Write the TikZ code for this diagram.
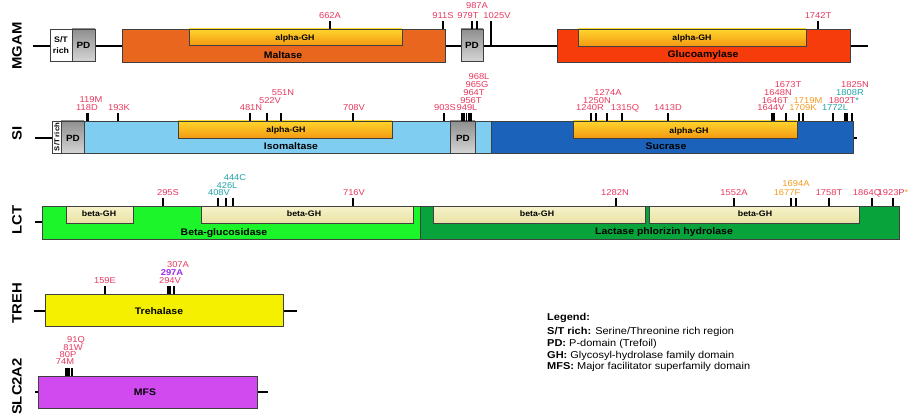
\documentclass[tikz,border=0pt]{standalone}
\usepackage{fontspec}
\setmainfont{Liberation Sans}[FakeStretch=1.1]
\definecolor{malt}{HTML}{E8661E}
\definecolor{gluco}{HTML}{F63C0B}
\definecolor{isom}{HTML}{80CDF2}
\definecolor{sucr}{HTML}{1B63BA}
\definecolor{bglu}{HTML}{1CF52A}
\definecolor{lph}{HTML}{08A33B}
\definecolor{treh}{HTML}{F5F000}
\definecolor{mfs}{HTML}{D04AF0}
\definecolor{agtop}{HTML}{FFD52C}
\definecolor{agbot}{HTML}{F39A12}
\definecolor{bgtop}{HTML}{F7F3CB}
\definecolor{bgbot}{HTML}{E8E1A4}
\definecolor{pdtop}{HTML}{8F8F8F}
\definecolor{pdbot}{HTML}{D4D4D4}
\definecolor{mred}{HTML}{E8385E}
\definecolor{mteal}{HTML}{22A3A7}
\definecolor{morange}{HTML}{F39C1F}
\definecolor{mpurple}{HTML}{9B2BEF}
\definecolor{edge}{HTML}{404040}
\newcommand\mutn[7]{%
  \node[mut, text=#6] (#1) at (#4,#5) {#7};
  \coordinate (#1b) at (#2,#3);
  \coordinate (#1t) at (#2,#3-8);
  \draw[tick] (#1b) -- (#1t);}
\begin{document}
\begin{tikzpicture}[x=1pt,y=-1pt,
  box/.style={draw=edge, line width=0.7pt, inner sep=0pt, outer sep=0pt, anchor=north west},
  agh/.style={box, top color=agtop, bottom color=agbot},
  bgh/.style={box, top color=bgtop, bottom color=bgbot},
  pdbox/.style={box, top color=pdtop, bottom color=pdbot},
  backbone/.style={line width=2.6pt, black},
  tick/.style={line width=1.2pt, black},
  mut/.style={inner sep=0pt, font=\fontsize{8.5}{9}\selectfont},
  dlab/.style={inner sep=0pt, text depth=0pt, font=\bfseries\fontsize{9.5}{11}\selectfont},
  ghlab/.style={inner sep=0pt, text depth=0pt, font=\bfseries\fontsize{8}{9}\selectfont},
  pdlab/.style={inner sep=0pt, font=\bfseries\fontsize{9}{10}\selectfont},
  rowlab/.style={inner sep=0pt, rotate=90, font=\bfseries\fontsize{13.5}{16}\selectfont},
  leg/.style={inner sep=0pt, anchor=west, text depth=0pt, font=\fontsize{10}{12}\selectfont}]
\fill[white] (0,0) rectangle (912,417);
\useasboundingbox (0,0) rectangle (912,417);

% ---------------- row labels
\node[rowlab] (rMGAM) at (17,46) {MGAM};
\node[rowlab] (rSI) at (17,133) {SI};
\node[rowlab] (rLCT) at (17,220) {LCT};
\node[rowlab] (rTREH) at (17,303) {TREH};
\node[rowlab] (rSLC) at (17,386.5) {SLC2A2};

% ---------------- MGAM
\draw[backbone] (33,46) -- (868,46);
\node[box, fill=white, minimum width=22pt, minimum height=32pt] (mst) at (50,29) {};
\node[inner sep=0pt, align=center, font=\bfseries\fontsize{8}{11}\selectfont] (mstL) at (61,45) {S/T\\rich};
\node[pdbox, minimum width=23pt, minimum height=32pt] (mpd1) at (72,29) {};
\node[pdlab] (mpd1L) at (83.5,45) {PD};
\node[box, fill=malt, minimum width=323pt, minimum height=33pt] (malt) at (122,29) {};
\node[agh, minimum width=213pt, minimum height=16pt] (mag1) at (189,29) {};
\node[ghlab] (mag1L) at (295,37.5) {alpha-GH};
\node[dlab] (maltL) at (283,55) {Maltase};
\node[pdbox, minimum width=22pt, minimum height=32pt] (mpd2) at (461,29) {};
\node[pdlab] (mpd2L) at (472,45) {PD};
\node[box, fill=gluco, minimum width=293pt, minimum height=33pt] (gluc) at (557,29) {};
\node[agh, minimum width=228pt, minimum height=17pt] (mag2) at (578,29) {};
\node[ghlab] (mag2L) at (692,38) {alpha-GH};
\node[dlab] (glucL) at (703,54) {Glucoamylase};

\mutn{m662}{330}{29}{330}{16}{mred}{662A}
\mutn{m911}{443}{29}{443}{16}{mred}{911S}
\mutn{m979}{472}{29}{468}{16}{mred}{979T}
\mutn{m987}{477}{29}{477}{6}{mred}{987A}
\node[mut, text=mred] (m1025) at (497,16) {1025V};
\coordinate (m1025b) at (491,46);
\coordinate (m1025t) at (491,21);
\draw[tick] (m1025b) -- (m1025t);
\mutn{m1742}{818}{29}{818}{16}{mred}{1742T}

% ---------------- SI
\draw[backbone] (35,138) -- (52,138);
\draw[backbone] (852,138) -- (857,138);
\node[box, fill=white, minimum width=9pt, minimum height=32pt] (sst) at (52,121) {};
\node[inner sep=0pt, rotate=90, font=\bfseries\fontsize{7}{8}\selectfont] (sstL) at (56.8,137) {S/T rich};
\node[pdbox, minimum width=23pt, minimum height=32pt] (spd1) at (61,121) {};
\node[pdlab] (spd1L) at (73,138) {PD};
\node[box, fill=isom, minimum width=407pt, minimum height=32pt] (isom) at (84,121) {};
\node[agh, minimum width=214pt, minimum height=17pt] (sag1) at (178,121) {};
\node[ghlab] (sag1L) at (286,130) {alpha-GH};
\node[dlab] (isomL) at (291,146) {Isomaltase};
\node[pdbox, minimum width=25pt, minimum height=32pt] (spd2) at (450,121) {};
\node[pdlab] (spd2L) at (463,138) {PD};
\node[box, fill=sucr, minimum width=362pt, minimum height=32pt] (sucr) at (491,121) {};
\node[agh, minimum width=224pt, minimum height=17pt] (sag2) at (573,121) {};
\node[ghlab] (sag2L) at (689,130.5) {alpha-GH};
\node[dlab] (sucrL) at (666,146) {Sucrase};

\mutn{s118}{87}{121}{87}{108}{mred}{118D}
\mutn{s119}{88}{121}{91}{100}{mred}{119M}
\mutn{s193}{118}{121}{119}{108}{mred}{193K}
\mutn{s481}{250}{121}{251}{108}{mred}{481N}
\mutn{s522}{267}{121}{270}{101}{mred}{522V}
\mutn{s551}{281}{121}{283}{93}{mred}{551N}
\mutn{s708}{353}{121}{354}{108}{mred}{708V}
\mutn{s903}{444}{121}{445}{108}{mred}{903S}
\mutn{s949}{462}{121}{467}{108}{mred}{949L}
\mutn{s956}{464}{121}{471}{101}{mred}{956T}
\mutn{s964}{466.5}{121}{474}{93}{mred}{964T}
\mutn{s965}{469}{121}{477}{85}{mred}{965G}
\mutn{s968}{471}{121}{479}{77}{mred}{968L}
\mutn{s1240}{591}{121}{590}{108}{mred}{1240R}
\mutn{s1250}{596}{121}{597}{101}{mred}{1250N}
\mutn{s1274}{607}{121}{608}{93}{mred}{1274A}
\mutn{s1315}{622}{121}{625}{108}{mred}{1315Q}
\mutn{s1413}{668}{121}{668}{108}{mred}{1413D}
\mutn{s1644}{772}{121}{771}{108}{mred}{1644V}
\mutn{s1646}{773}{121}{775}{101}{mred}{1646T}
\mutn{s1648}{774}{121}{778}{93}{mred}{1648N}
\mutn{s1673}{786}{121}{788}{85}{mred}{1673T}
\mutn{s1709}{799}{121}{803}{108}{morange}{1709K}
\mutn{s1719}{803}{121}{808}{101}{morange}{1719M}
\mutn{s1772}{833}{121}{835}{108}{mteal}{1772L}
\mutn{s1802}{845}{121}{844}{101}{mred}{1802T\textcolor{mteal}{*}}
\mutn{s1808}{847}{121}{850}{93}{mteal}{1808R}
\mutn{s1825}{852}{121}{855}{85}{mred}{1825N}

% ---------------- LCT
\draw[backbone] (35,222) -- (42,222);
\node[box, fill=bglu, minimum width=378pt, minimum height=33pt] (bglu) at (42,206) {};
\node[bgh, minimum width=67pt, minimum height=17pt] (lbg1) at (66,206) {};
\node[bgh, minimum width=212pt, minimum height=17pt] (lbg2) at (201,206) {};
\node[box, fill=lph, minimum width=479pt, minimum height=33pt] (lph) at (420,206) {};
\node[bgh, minimum width=212pt, minimum height=17pt] (lbg3) at (433,206) {};
\node[bgh, minimum width=210pt, minimum height=17pt] (lbg4) at (649,206) {};
\node[ghlab] (lbg1L) at (99,214) {beta-GH};
\node[ghlab] (lbg2L) at (304,214) {beta-GH};
\node[ghlab] (lbg3L) at (537,214) {beta-GH};
\node[ghlab] (lbg4L) at (755,214) {beta-GH};
\node[dlab] (bgluL) at (224,232) {Beta-glucosidase};
\node[dlab] (lphL) at (664,231.5) {Lactase phlorizin hydrolase};

\mutn{l295}{163}{206}{168}{193}{mred}{295S}
\mutn{l408}{218}{206}{219}{193}{mteal}{408V}
\mutn{l426}{226}{206}{227}{186}{mteal}{426L}
\mutn{l444}{233}{206}{235}{178}{mteal}{444C}
\mutn{l716}{353}{206}{354}{193}{mred}{716V}
\mutn{l1282}{616}{206}{615}{193}{mred}{1282N}
\mutn{l1552}{734}{206}{734}{193}{mred}{1552A}
\mutn{l1677}{791}{206}{787}{193}{morange}{1677F}
\mutn{l1694}{796}{206}{796}{184}{morange}{1694A}
\mutn{l1758}{829}{206}{829}{193}{mred}{1758T}
\mutn{l1864}{872}{206}{867}{193}{mred}{1864Q}
\mutn{l1923}{893}{206}{893}{193}{mred}{1923P\textcolor{morange}{*}}

% ---------------- TREH
\draw[backbone] (34,311) -- (297,311);
\node[box, fill=treh, minimum width=238pt, minimum height=32pt] (treh) at (45,294) {};
\node[dlab] (trehL) at (159,311) {Trehalase};
\mutn{t159}{105}{294}{105}{281}{mred}{159E}
\mutn{t294}{168}{294}{170}{281}{mred}{294V}
\mutn{t297}{170}{294}{172}{273}{mpurple}{\bfseries 297A}
\mutn{t307}{174}{294}{178}{265}{mred}{307A}

% ---------------- SLC2A2
\draw[backbone] (35,392) -- (268,392);
\node[box, fill=mfs, minimum width=219pt, minimum height=32pt] (mfs) at (38,376) {};
\node[dlab] (mfsL) at (145,392) {MFS};
\mutn{g74}{66}{376}{65}{362}{mred}{74M}
\mutn{g80}{68}{376}{68}{355}{mred}{80P}
\mutn{g81}{69.5}{376}{73}{348}{mred}{81W}
\mutn{g91}{72}{376}{76}{340}{mred}{91Q}

% ---------------- legend
\node[leg] (lg0) at (547,317) {\textbf{Legend:}};
\node[leg] (lg1) at (547,331) {\textbf{S/T rich:} Serine/Threonine rich region};
\node[leg] (lg2) at (547,343) {\textbf{PD:} P-domain (Trefoil)};
\node[leg] (lg3) at (547,355) {\textbf{GH:} Glycosyl-hydrolase family domain};
\node[leg] (lg4) at (547,366) {\textbf{MFS:} Major facilitator superfamily domain};
\end{tikzpicture}
\end{document}
